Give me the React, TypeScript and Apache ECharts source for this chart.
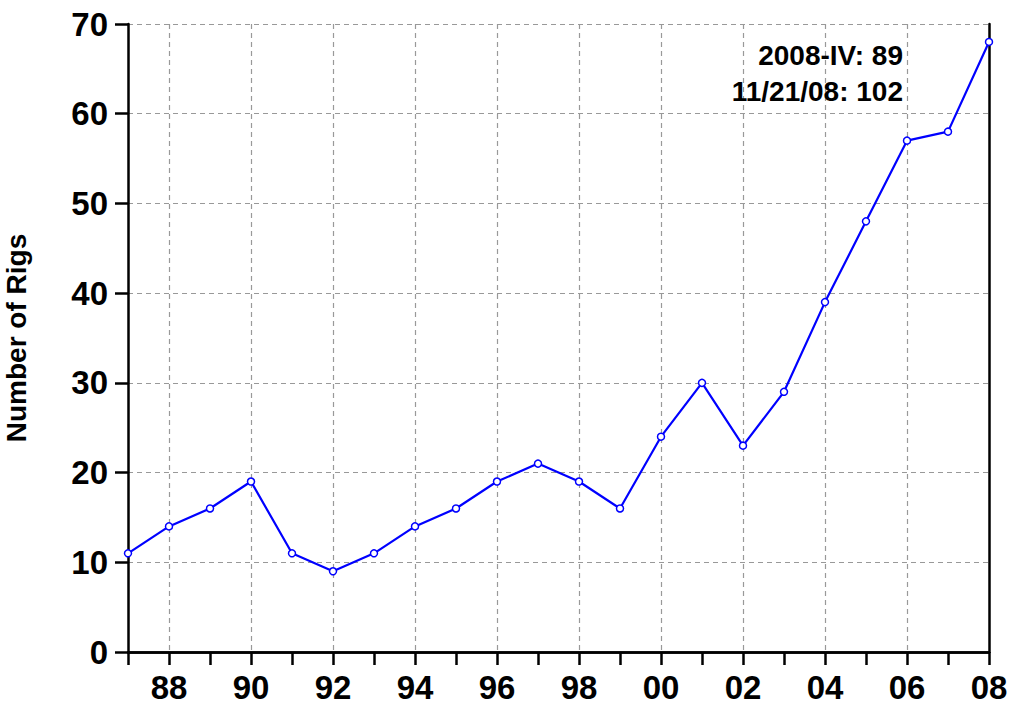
import React, { useEffect, useRef } from "react";
import * as echarts from "echarts";

const years = ["87","88","89","90","91","92","93","94","95","96","97","98","99","00","01","02","03","04","05","06","07","08"];
const rigs = [11,14,16,19,11,9,11,14,16,19,21,19,16,24,30,23,29,39,48,57,58,68];
const yTicks = { min: 0, max: 70, interval: 10 };
const notes = ["2008-IV: 89", "11/21/08: 102"];
const yTitle = "Number of Rigs";

const FONT = "'Liberation Sans', Arial, Helvetica, sans-serif";

export default function App() {
  const ref = useRef<HTMLDivElement>(null);
  useEffect(() => {
    if (!ref.current) return;
    const chart = echarts.init(ref.current, null, { renderer: "svg" });
    const frameAxis = { show: true, lineStyle: { color: "#000", width: 2.5 } };
    chart.setOption({
      animation: false,
      backgroundColor: "#fff",
      grid: { left: 128, right: 22, top: 24, bottom: 56, containLabel: false, outerBoundsMode: "none" },
      xAxis: [
        {
          type: "category",
          data: years,
          boundaryGap: false,
          axisLine: frameAxis,
          axisTick: { show: true, interval: 0, length: 13, lineStyle: { color: "#000", width: 2.5 } },
          axisLabel: {
            interval: (i: number) => i % 2 === 1,
            color: "#000",
            fontFamily: FONT,
            fontWeight: "bold",
            fontSize: 33,
            margin: 19,
          },
          splitLine: {
            show: true,
            interval: (i: number) => i % 2 === 1 && i < years.length - 1,
            lineStyle: { color: "#999", type: [5, 4], width: 1.2 },
          },
          z: 3,
        },
        {
          type: "category",
          data: years,
          boundaryGap: false,
          position: "top",
          axisLine: frameAxis,
          axisTick: { show: false },
          axisLabel: { show: false },
          splitLine: { show: false },
          z: 3,
        },
      ],
      yAxis: [
        {
          type: "value",
          min: yTicks.min,
          max: yTicks.max,
          interval: yTicks.interval,
          name: yTitle,
          nameLocation: "middle",
          nameGap: 98,
          nameTextStyle: { color: "#000", fontFamily: FONT, fontWeight: "bold", fontSize: 28 },
          axisLine: frameAxis,
          axisTick: { show: true, length: 13, lineStyle: { color: "#000", width: 2.5 } },
          axisLabel: { color: "#000", fontFamily: FONT, fontWeight: "bold", fontSize: 33, margin: 20 },
          splitLine: { show: true, lineStyle: { color: "#999", type: [5, 4], width: 1.2 } },
          z: 3,
        },
        {
          type: "value",
          min: yTicks.min,
          max: yTicks.max,
          interval: yTicks.interval,
          position: "right",
          axisLine: frameAxis,
          axisTick: { show: false },
          axisLabel: { show: false },
          splitLine: { show: false },
          z: 3,
        },
      ],
      series: [
        {
          type: "line",
          data: rigs,
          symbol: "circle",
          symbolSize: 7,
          showAllSymbol: true,
          lineStyle: { color: "#0000ff", width: 2.2 },
          itemStyle: { color: "#fff", borderColor: "#0000ff", borderWidth: 1.5 },
          z: 5,
        },
      ],
      graphic: notes.map((t, i) => ({
        type: "text",
        right: 1011 - 903,
        top: 41 + i * 36,
        style: { text: t, font: `bold 28px ${FONT}`, fill: "#000", textAlign: "right" },
        z: 10,
      })),
    });
    return () => chart.dispose();
  }, []);
  return <div ref={ref} style={{ width: 1011, height: 708, position: "absolute", left: 0, top: 0 }} />;
}
